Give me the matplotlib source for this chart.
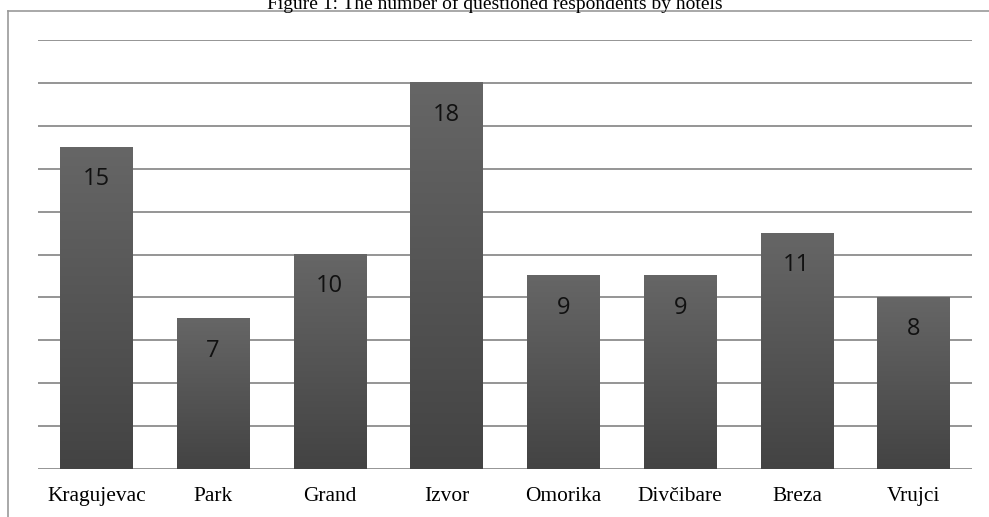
import matplotlib
matplotlib.use('Agg')
import matplotlib.pyplot as plt
import numpy as np
from matplotlib.lines import Line2D

# data
hotels = ['Kragujevac', 'Park', 'Grand', 'Izvor', 'Omorika', 'Divčibare', 'Breza', 'Vrujci']
counts = [15, 7, 10, 18, 9, 9, 11, 8]
title = 'Figure 1: The number of questioned respondents by hotels'

fig = plt.figure(figsize=(9.89, 5.17), dpi=100)
ax = fig.add_axes([38/989, 1 - 469/517, 934/989, 429/517])

# gradient bars
grad = np.linspace(0, 1, 256).reshape(-1, 1)
cmap = matplotlib.colors.LinearSegmentedColormap.from_list('g', ['#434343', '#666666'])
width = 0.62
for i, v in enumerate(counts):
    ax.imshow(grad, cmap=cmap, aspect='auto', origin='lower',
              extent=(i - width/2, i + width/2, 0, v), zorder=2)
    ax.text(i, v - 1.48, str(v), ha='center', va='center', fontsize=17,
            family='Open Sans', color='#111111', zorder=3)

ax.set_xlim(-0.5, len(hotels) - 0.5)
ax.set_ylim(0, 20)
for y in range(0, 21, 2):
    ax.axhline(y, color='#8c8c8c', lw=1.3, zorder=1)
for s in ax.spines.values():
    s.set_visible(False)
ax.set_yticks([])
ax.set_xticks(range(len(hotels)))
ax.set_xticklabels(hotels, family='Liberation Serif', fontsize=15.4)
ax.tick_params(axis='x', length=0, pad=13)

# outer frame (top and left)
fig.add_artist(Line2D([8/989, 8/989], [0, 1 - 11/517], color='#999999', lw=1.2))
fig.add_artist(Line2D([8/989, 1], [1 - 11/517, 1 - 11/517], color='#999999', lw=1.2))

fig.text(0.5, 1 - 9/517, title, ha='center', va='baseline', family='Liberation Serif',
         fontsize=14)

fig.savefig('out.png', dpi=100)
